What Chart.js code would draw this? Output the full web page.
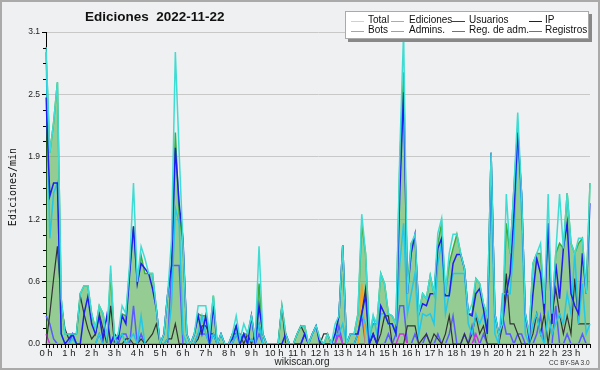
<!DOCTYPE html>
<html>
<head>
<meta charset="utf-8">
<script src="https://cdn.jsdelivr.net/npm/chart.js@4/dist/chart.umd.min.js"></script>
<style>
  html, body { margin:0; padding:0; background:#eff0f1; }
  #wrap { position:relative; width:600px; height:370px; background:#eff0f1; overflow:hidden; }
  #c { position:absolute; left:0; top:0; }
  #frame { position:absolute; left:0; top:0; width:600px; height:370px; box-sizing:border-box; border:2px solid #aaaaaa; pointer-events:none; }
  .txt { position:absolute; font-family:"Liberation Sans", Arial, sans-serif; color:#111; white-space:nowrap; }
  #title { left:85px; top:9px; font-size:13.5px; font-weight:bold; }
  #ytitle { left:12px; top:187px; font-family:"DejaVu Sans Mono", monospace; font-size:10px; transform:translate(-50%,-50%) rotate(-90deg); }
  #site { left:302px; top:356px; font-size:10px; transform:translateX(-50%); color:#222; }
  #lic { left:549px; top:359px; font-size:6.5px; color:#333; line-height:7px; }
  #legend { position:absolute; left:345px; top:11px; width:242px; height:26px; background:#fff; border:1px solid #aaa; box-shadow:3px 3px 0 #888; }
  .lg { position:absolute; font-family:"Liberation Sans", Arial, sans-serif; font-size:10px; color:#111; line-height:10px; white-space:nowrap; }
  .ls { position:absolute; height:1px; width:13px; }
</style>
</head>
<body>
<div id="wrap">
  <canvas id="c" width="600" height="370"></canvas>
  <div id="frame"></div>
  <div class="txt" id="title">Ediciones&nbsp; 2022-11-22</div>
  <div class="txt" id="ytitle">Ediciones/min</div>
  <div class="txt" id="site">wikiscan.org</div>
  <div class="txt" id="lic">CC BY-SA 3.0</div>
  <div id="legend"></div>
</div>
<script>
// ---- data ----
const hourLabels = ['0 h','1 h','2 h','3 h','4 h','5 h','6 h','7 h','8 h','9 h','10 h','11 h','12 h','13 h','14 h','15 h','16 h','17 h','18 h','19 h','20 h','21 h','22 h','23 h'];
const minuteLabels = ['00','10','20','30','40','50'];
const categories = [];
hourLabels.forEach((h, hi) => minuteLabels.forEach(m => categories.push(String(hi).padStart(2,'0') + ':' + m)));

const yTicks = [0, 0.62, 1.24, 1.86, 2.48, 3.1];
const yTickLabels = ['0.0','0.6','1.2','1.9','2.5','3.1'];

const total = [
  2.95,1.9,2.2,2.6,0.45,0.1,0.1,0.1,0.1,0.5,0.58,0.58,
  0.3,0.15,0.38,0.3,0.05,0.78,0.05,0.1,0.38,0.3,0.8,1.6,
  0.62,0.97,0.85,0.7,0.7,0.35,0.0,0.1,0.5,1.04,2.9,1.9,
  1.0,0.1,0.0,0.1,0.38,0.38,0.38,0.1,0.48,0.0,0.1,0.0,
  0.0,0.1,0.28,0.05,0.2,0.1,0.28,0.05,0.97,0.1,0.0,0.0,
  0.0,0.0,0.38,0.1,0.0,0.0,0.1,0.18,0.18,0.0,0.1,0.18,
  0.05,0.0,0.1,0.0,0.2,0.28,0.98,0.0,0.1,0.1,0.3,1.29,
  0.9,0.1,0.28,0.2,0.7,0.6,0.3,0.28,0.2,1.9,3.1,0.5,
  1.0,1.09,0.3,0.5,0.45,0.68,0.5,1.1,1.25,0.5,0.9,1.09,
  1.09,0.9,0.75,0.3,0.4,0.65,0.6,0.4,0.28,1.9,0.3,0.1,
  0.2,1.49,0.9,1.55,2.3,1.5,0.3,0.1,0.8,0.9,1.0,0.4,
  1.49,0.3,0.9,1.49,0.95,1.5,1.0,0.9,1.05,1.05,0.5,1.6
];
const ediciones = [
  2.9,1.9,2.2,2.6,0.45,0.1,0.1,0.1,0.1,0.5,0.58,0.58,
  0.3,0.15,0.38,0.3,0.05,0.7,0.05,0.1,0.3,0.28,0.75,1.17,
  0.62,0.88,0.7,0.7,0.7,0.35,0.0,0.1,0.5,0.78,2.1,1.3,
  1.0,0.1,0.0,0.1,0.3,0.28,0.28,0.1,0.48,0.0,0.1,0.0,
  0.0,0.1,0.18,0.05,0.1,0.1,0.28,0.05,0.6,0.1,0.0,0.0,
  0.0,0.0,0.38,0.1,0.0,0.0,0.1,0.18,0.18,0.0,0.1,0.18,
  0.05,0.0,0.1,0.0,0.1,0.28,0.98,0.0,0.1,0.1,0.3,1.19,
  0.9,0.1,0.2,0.2,0.7,0.6,0.3,0.28,0.2,1.8,2.7,0.56,
  1.0,1.05,0.3,0.5,0.45,0.68,0.5,1.0,1.2,0.5,0.8,0.95,
  1.09,0.9,0.75,0.3,0.3,0.65,0.6,0.4,0.28,1.9,0.3,0.1,
  0.2,1.2,0.9,1.55,2.15,1.5,0.3,0.1,0.8,0.9,0.9,0.4,
  1.2,0.3,0.9,1.0,0.95,1.5,1.0,0.9,1.0,1.05,0.5,1.6
];
const usuarios = [
  2.45,1.47,1.6,1.6,0.1,0.0,0.05,0.1,0.0,0.0,0.3,0.47,
  0.2,0.1,0.28,0.05,0.28,0.0,0.1,0.05,0.28,0.2,0.7,1.17,
  0.6,0.8,0.75,0.7,0.55,0.35,0.0,0.1,0.5,0.78,1.95,1.4,
  1.05,0.1,0.0,0.1,0.28,0.1,0.28,0.0,0.38,0.0,0.1,0.0,
  0.0,0.05,0.18,0.0,0.1,0.0,0.28,0.0,0.38,0.1,0.0,0.0,
  0.0,0.0,0.0,0.1,0.0,0.0,0.0,0.0,0.1,0.0,0.1,0.18,
  0.0,0.0,0.0,0.0,0.1,0.28,0.98,0.0,0.1,0.1,0.1,0.3,
  0.48,0.0,0.1,0.0,0.38,0.3,0.2,0.2,0.1,1.5,2.5,0.5,
  0.9,1.09,0.3,0.4,0.38,0.5,0.5,0.95,1.05,0.48,0.48,0.8,
  0.89,0.89,0.75,0.3,0.28,0.5,0.55,0.35,0.1,1.9,0.3,0.1,
  0.2,0.5,0.7,1.3,2.1,1.5,0.3,0.05,0.5,0.85,0.7,0.3,
  1.2,0.2,0.8,0.45,0.95,1.2,0.5,0.38,0.3,0.9,0.5,1.4
];
const ip = [
  0.0,0.3,0.65,0.97,0.4,0.15,0.05,0.1,0.1,0.48,0.3,0.15,
  0.05,0.1,0.3,0.15,0.0,0.38,0.0,0.0,0.0,0.05,0.05,0.0,
  0.0,0.05,0.0,0.05,0.1,0.2,0.0,0.0,0.05,0.05,0.2,0.0,
  0.0,0.0,0.0,0.0,0.05,0.18,0.18,0.1,0.1,0.0,0.0,0.0,
  0.0,0.1,0.1,0.1,0.0,0.1,0.0,0.1,0.2,0.0,0.0,0.0,
  0.0,0.0,0.38,0.0,0.0,0.0,0.1,0.18,0.1,0.0,0.0,0.0,
  0.0,0.1,0.1,0.0,0.0,0.0,0.0,0.0,0.0,0.0,0.1,0.3,
  0.55,0.0,0.1,0.0,0.1,0.28,0.28,0.0,0.0,0.0,0.0,0.18,
  0.18,0.18,0.0,0.05,0.1,0.0,0.1,0.05,0.0,0.1,0.28,0.0,
  0.0,0.0,0.1,0.0,0.1,0.28,0.1,0.18,0.0,0.0,0.0,0.0,
  0.18,0.7,0.2,0.2,0.1,0.0,0.0,0.0,0.1,0.3,0.1,0.3,
  0.0,0.28,0.55,0.3,0.1,0.28,0.1,0.65,0.2,0.2,0.2,0.2
];
const bots = [
  0,0,0,0,0,0,0,0,0,0,0,0,
  0,0,0,0,0,0,0,0,0,0,0,0,
  0,0,0,0,0,0,0,0,0,0,0,0,
  0,0,0,0,0,0,0,0,0,0,0,0,
  0,0,0,0,0,0,0,0,0,0,0,0,
  0,0,0,0,0,0,0,0,0,0,0,0,
  0,0,0,0,0,0,0,0,0,0,0,0.6,
  0,0,0,0,0,0,0,0,0,0,0,0,
  0,0,0,0,0,0,0,0,0,0,0,0,
  0,0,0,0,0,0,0,0,0,0,0,0,
  0,0,0,0,0,0,0,0,0,0,0,0,
  0,0,0,0,0,0,0,0,0,0,0,0
];
const admins = [
  2.9,1.05,1.5,1.6,0.1,0.0,0.0,0.05,0.0,0.0,0.0,0.0,
  0.0,0.0,0.1,0.0,0.0,0.0,0.0,0.05,0.1,0.0,0.05,0.1,
  0.0,0.28,0.0,0.0,0.0,0.0,0.0,0.0,0.05,0.4,1.35,1.2,
  0.1,0.0,0.0,0.0,0.1,0.28,0.1,0.0,0.1,0.0,0.0,0.0,
  0.0,0.0,0.1,0.0,0.1,0.0,0.05,0.0,0.2,0.0,0.0,0.0,
  0.0,0.0,0.0,0.0,0.0,0.0,0.0,0.0,0.0,0.0,0.0,0.0,
  0.0,0.0,0.0,0.0,0.1,0.1,0.2,0.0,0.0,0.0,0.1,0.3,
  0.2,0.0,0.28,0.1,0.3,0.3,0.2,0.2,0.1,0.8,1.2,0.3,
  0.5,0.7,0.1,0.3,0.28,0.3,0.2,0.8,1.0,0.3,0.5,0.7,
  0.7,0.7,0.7,0.2,0.1,0.3,0.2,0.3,0.1,1.6,0.1,0.0,
  0.5,0.5,0.5,1.0,2.15,1.3,0.1,0.0,0.2,0.3,0.1,0.0,
  0.3,0.1,0.2,0.3,0.2,0.5,0.3,0.9,0.2,0.6,0.1,0.2
];
const regAdm = [
  0.1,0,0,0,0,0,0,0,0,0,0,0,
  0,0,0,0,0,0,0,0,0,0,0,0,
  0,0,0,0,0,0,0,0,0,0,0,0,
  0,0,0,0,0,0,0,0,0,0,0,0,
  0,0,0,0,0,0,0,0,0,0,0,0,
  0,0,0,0,0,0,0,0,0,0,0,0,
  0,0,0,0,0,0.1,0,0,0,0,0,0,
  0,0,0,0,0,0,0,0,0,0.1,0.1,0,
  0,0,0,0,0,0,0,0,0,0,0,0,
  0,0,0,0,0,0.1,0,0,0,0,0,0,
  0,0,0,0,0,0,0,0,0,0,0,0,
  0,0,0,0,0,0,0,0,0,0,0,0
];
const registros = [
  0.28,0.2,0.05,0,0,0,0,0.1,0,0,0,0,
  0,0,0.1,0,0,0,0.1,0,0.1,0.1,0,0.38,
  0,0.1,0,0,0,0,0,0,0,0.78,0.78,0.78,
  0,0,0,0,0.1,0.1,0.1,0,0.1,0,0,0,
  0,0,0.1,0,0.1,0,0,0,0.1,0,0,0,
  0,0,0,0,0,0,0,0,0.1,0,0,0,
  0,0,0,0,0,0.18,0,0,0,0,0.1,0.28,
  0,0,0.1,0,0,0,0.1,0,0.1,0.38,0.38,0,
  0,0.1,0,0,0.1,0,0,0.1,0,0,0.1,0.28,
  0,0,0.1,0,0.18,0,0,0.1,0,0,0,0,
  0.28,0.1,0.1,0,0.1,0.1,0,0,0,0.1,0.28,0,
  0,0,0.38,0,0,0.1,0,0,0,0.1,0,0
];

const seriesNames = ['Total','Ediciones','Usuarios','IP','Bots','Admins.','Reg. de adm.','Registros'];
const legendColors = ['#9ee6e0','#7ccc7c','#2a2ae0','#222222','#f09a20','#30cce0','#cc30e0','#6464f0'];

// ---- legend (HTML) ----
const legendCols = [ [5,22], [45,63], [106,123], [183,199] ];
const legendRows = [ 3, 13 ];
const legEl = document.getElementById('legend');
seriesNames.forEach((name, i) => {
  const col = i % 4, row = Math.floor(i / 4);
  const s = document.createElement('div');
  s.className = 'ls';
  s.style.left = legendCols[col][0] + 'px';
  s.style.top = (legendRows[row] + 6) + 'px';
  s.style.background = legendColors[i];
  legEl.appendChild(s);
  const t = document.createElement('div');
  t.className = 'lg';
  t.style.left = legendCols[col][1] + 'px';
  t.style.top = legendRows[row] + 'px';
  t.textContent = name;
  legEl.appendChild(t);
});

// ---- minor y ticks plugin ----
const minorTicks = {
  id: 'minorTicks',
  afterDraw(chart) {
    const y = chart.scales.y, ctx = chart.ctx, left = chart.chartArea.left;
    ctx.save();
    ctx.strokeStyle = '#000';
    ctx.lineWidth = 1;
    for (let k = 0; k < yTicks.length - 1; k++) {
      for (let m = 1; m < 4; m++) {
        const v = yTicks[k] + (yTicks[k + 1] - yTicks[k]) * m / 4;
        const py = Math.round(y.getPixelForValue(v)) + 0.5;
        ctx.beginPath();
        ctx.moveTo(left - 3, py);
        ctx.lineTo(left, py);
        ctx.stroke();
      }
    }
    ctx.restore();
  }
};

const ds = (label, data, color, order, extra) => Object.assign({
  label, data, borderColor: color, backgroundColor: color, borderWidth: 1.5,
  pointRadius: 0, tension: 0, fill: false, order
}, extra || {});

new Chart(document.getElementById('c'), {
  type: 'line',
  data: {
    labels: categories,
    datasets: [
      ds('Total', total, '#3edcd2', 2),
      ds('Ediciones', ediciones, '#3aad3a', 9, { fill: 'origin', backgroundColor: 'rgba(57,168,55,0.5)' }),
      ds('Usuarios', usuarios, '#1e1ef0', 3),
      ds('IP', ip, '#333333', 5, { borderWidth: 1.2 }),
      ds('Bots', bots, '#f4a020', 6),
      ds('Admins.', admins, '#22c8e6', 4),
      ds('Reg. de adm.', regAdm, '#d030e0', 7),
      ds('Registros', registros, '#5a5aff', 8)
    ]
  },
  options: {
    responsive: false,
    animation: false,
    layout: { padding: { left: 0, top: 32, right: 10, bottom: 12 } },
    plugins: { legend: { display: false }, tooltip: { enabled: false }, title: { display: false } },
    scales: {
      x: {
        type: 'category',
        offset: false,
        grid: { drawOnChartArea: false, tickColor: '#000', tickLength: 4, color: '#000' },
        border: { color: '#000', width: 1 },
        ticks: {
          autoSkip: false, maxRotation: 0, minRotation: 0, padding: 0,
          color: '#222', font: { family: 'Liberation Sans', size: 9.5 },
          callback: (v, i) => (i % 6 === 0 ? hourLabels[i / 6] : '')
        },
        afterFit: s => { s.height = 14; }
      },
      y: {
        min: 0, max: 3.1,
        grid: { color: '#c8c8c8', tickColor: '#000', tickLength: 4 },
        border: { color: '#000', width: 1 },
        ticks: {
          padding: 2, color: '#222', font: { family: 'Liberation Sans', size: 8.5 },
          callback: (v) => { const k = yTicks.indexOf(v); return k >= 0 ? yTickLabels[k] : ''; }
        },
        afterBuildTicks: s => { s.ticks = yTicks.map(v => ({ value: v })); },
        afterFit: s => { s.width = 46; }
      }
    }
  },
  plugins: [minorTicks]
});
</script>
</body>
</html>
